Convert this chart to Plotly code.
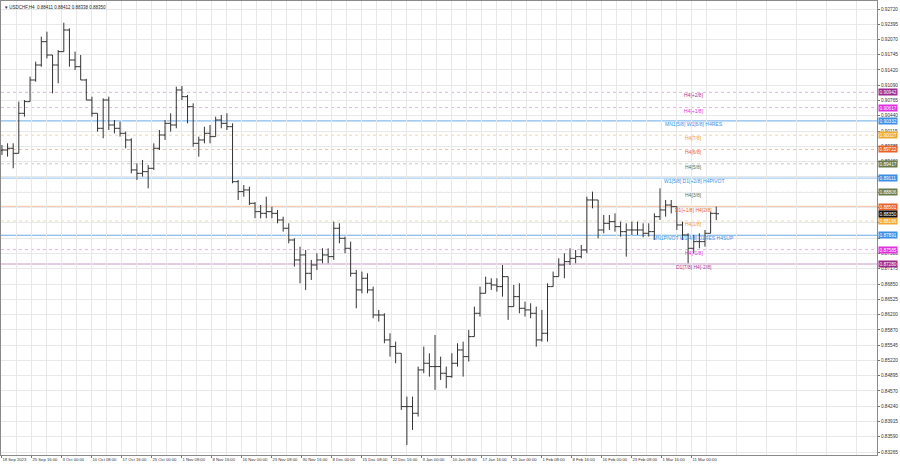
import plotly.graph_objects as go

# ---------------- data (daily aggregation of the H4 chart) -------------
title_text = "USDCHF,H4  0.88411 0.88412 0.88338 0.88350"

opens = [0.89700, 0.89711, 0.89747, 0.89640, 0.90494, 0.90743, 0.91205, 0.91525, 0.92023, 0.91738,
         0.91525, 0.91810, 0.92272, 0.91632, 0.91489, 0.91205, 0.90778, 0.90494, 0.90174, 0.90778,
         0.90245, 0.90174, 0.90067, 0.89925, 0.89285, 0.89213, 0.89249, 0.89320, 0.89747, 0.90031,
         0.90280, 0.90245, 0.90992, 0.90849, 0.90636, 0.89853, 0.89925, 0.90067, 0.89996, 0.90351,
         0.90280, 0.90209, 0.89035, 0.88822, 0.88858, 0.88573, 0.88395, 0.88359, 0.88395, 0.88359,
         0.88217, 0.88040, 0.87790, 0.87364, 0.87471, 0.87079, 0.87257, 0.87364, 0.87471, 0.87435,
         0.88040, 0.87826, 0.87613, 0.87079, 0.86724, 0.86973, 0.86724, 0.86190, 0.86190, 0.85657,
         0.85515, 0.85372, 0.84234, 0.84234, 0.84092, 0.85017, 0.85159, 0.85088, 0.85088, 0.84946,
         0.84874, 0.85159, 0.85443, 0.85301, 0.85728, 0.86226, 0.86653, 0.86866, 0.86830, 0.86795,
         0.87008, 0.86368, 0.86581, 0.86332, 0.86297, 0.86226, 0.85657, 0.85799, 0.86795, 0.87008,
         0.87257, 0.87328, 0.87399, 0.87435, 0.87577, 0.88644, 0.88644, 0.88004, 0.88146, 0.88182,
         0.88075, 0.87968, 0.88004, 0.88004, 0.88004, 0.87933, 0.87968, 0.88288, 0.88431, 0.88537,
         0.88502, 0.88111, 0.87897, 0.87613, 0.87755, 0.87755, 0.87933, 0.88359]

highs = [0.89818, 0.89853, 0.89853, 0.90743, 0.90778, 0.91276, 0.91596, 0.92130, 0.92236, 0.91738,
         0.91845, 0.92428, 0.92307, 0.91810, 0.91738, 0.91230, 0.90849, 0.90494, 0.90814, 0.90849,
         0.90351, 0.90316, 0.90102, 0.89960, 0.89427, 0.89498, 0.89391, 0.89853, 0.90138, 0.90351,
         0.90494, 0.91063, 0.91077, 0.90885, 0.90707, 0.89996, 0.90209, 0.90245, 0.90423, 0.90458,
         0.90494, 0.90280, 0.89070, 0.88964, 0.88929, 0.88600, 0.88537, 0.88715, 0.88502, 0.88431,
         0.88288, 0.88146, 0.87826, 0.87648, 0.87577, 0.87364, 0.87506, 0.87613, 0.87613, 0.88182,
         0.88146, 0.87862, 0.87755, 0.87150, 0.87115, 0.87079, 0.86795, 0.86297, 0.86226, 0.85799,
         0.85621, 0.85372, 0.84447, 0.84447, 0.85088, 0.85515, 0.85372, 0.85763, 0.85301, 0.85088,
         0.85372, 0.85586, 0.85621, 0.85870, 0.86368, 0.86795, 0.87008, 0.86973, 0.86973, 0.87257,
         0.87008, 0.86830, 0.86866, 0.86475, 0.86439, 0.86368, 0.86297, 0.86866, 0.87115, 0.87399,
         0.87506, 0.87613, 0.87577, 0.87684, 0.88715, 0.88822, 0.88644, 0.88324, 0.88324, 0.88359,
         0.88182, 0.88146, 0.88182, 0.88182, 0.88146, 0.88146, 0.88359, 0.88893, 0.88644, 0.88644,
         0.88502, 0.88182, 0.87933, 0.87897, 0.87933, 0.88004, 0.88395, 0.88502]

lows = [0.89605, 0.89569, 0.89320, 0.89640, 0.90423, 0.90743, 0.91169, 0.91489, 0.91667, 0.90920,
        0.91134, 0.91810, 0.91489, 0.91418, 0.91205, 0.90778, 0.90423, 0.90102, 0.89960, 0.90138,
        0.90067, 0.89996, 0.89747, 0.89213, 0.89071, 0.89142, 0.88893, 0.89285, 0.89711, 0.89925,
        0.90102, 0.90174, 0.90778, 0.90280, 0.89782, 0.89569, 0.89853, 0.89853, 0.89996, 0.90174,
        0.90138, 0.89000, 0.88644, 0.88715, 0.88537, 0.88253, 0.88253, 0.88253, 0.88253, 0.88146,
        0.87968, 0.87719, 0.87222, 0.86866, 0.86724, 0.86937, 0.87150, 0.87293, 0.87293, 0.87364,
        0.87719, 0.87506, 0.87008, 0.86332, 0.86653, 0.86653, 0.86119, 0.86048, 0.85586, 0.85301,
        0.85159, 0.84163, 0.83416, 0.83736, 0.84021, 0.84946, 0.84874, 0.84590, 0.84803, 0.84625,
        0.84850, 0.85088, 0.84874, 0.85195, 0.85728, 0.86155, 0.86653, 0.86724, 0.86688, 0.86581,
        0.86084, 0.86368, 0.86226, 0.86155, 0.86119, 0.85515, 0.85621, 0.85621, 0.86795, 0.87008,
        0.86973, 0.87257, 0.87293, 0.87399, 0.87506, 0.88466, 0.87826, 0.87933, 0.88004, 0.87968,
        0.87862, 0.87435, 0.87897, 0.87897, 0.87848, 0.87862, 0.87790, 0.88217, 0.88288, 0.88359,
        0.88004, 0.87790, 0.87293, 0.87506, 0.87613, 0.87648, 0.87933, 0.88217]

closes = [0.89711, 0.89747, 0.89640, 0.90494, 0.90743, 0.91205, 0.91525, 0.92023, 0.91738, 0.91525,
          0.91810, 0.92272, 0.91632, 0.91489, 0.91205, 0.90778, 0.90494, 0.90174, 0.90778, 0.90245,
          0.90174, 0.90067, 0.89925, 0.89285, 0.89213, 0.89249, 0.89320, 0.89747, 0.90031, 0.90280,
          0.90245, 0.90992, 0.90849, 0.90636, 0.89853, 0.89925, 0.90067, 0.89996, 0.90351, 0.90280,
          0.90209, 0.89035, 0.88822, 0.88858, 0.88573, 0.88395, 0.88359, 0.88395, 0.88359, 0.88217,
          0.88040, 0.87790, 0.87364, 0.87471, 0.87079, 0.87257, 0.87364, 0.87471, 0.87435, 0.88040,
          0.87826, 0.87613, 0.87079, 0.86724, 0.86973, 0.86724, 0.86190, 0.86190, 0.85657, 0.85515,
          0.85372, 0.84234, 0.84234, 0.84092, 0.85017, 0.85159, 0.85088, 0.85088, 0.84946, 0.84874,
          0.85159, 0.85443, 0.85301, 0.85728, 0.86226, 0.86653, 0.86866, 0.86830, 0.86795, 0.87008,
          0.86368, 0.86581, 0.86332, 0.86297, 0.86226, 0.85657, 0.85799, 0.86795, 0.87008, 0.87257,
          0.87328, 0.87399, 0.87435, 0.87577, 0.88644, 0.88644, 0.88004, 0.88146, 0.88182, 0.88075,
          0.87968, 0.88004, 0.88004, 0.88004, 0.87933, 0.87968, 0.88288, 0.88431, 0.88537, 0.88502,
          0.88111, 0.87897, 0.87613, 0.87755, 0.87755, 0.87933, 0.88359, 0.88350]

# time-scale labels (one every 32 H4 bars)
time_labels = ["18 Sep 2023", "25 Sep 16:00", "3 Oct 00:00", "10 Oct 08:00", "17 Oct 16:00",
               "25 Oct 00:00", "1 Nov 08:00", "8 Nov 16:00", "16 Nov 00:00", "23 Nov 08:00",
               "30 Nov 16:00", "8 Dec 00:00", "15 Dec 08:00", "22 Dec 16:00", "3 Jan 00:00",
               "10 Jan 08:00", "17 Jan 16:00", "25 Jan 00:00", "1 Feb 08:00", "8 Feb 16:00",
               "16 Feb 00:00", "23 Feb 08:00", "1 Mar 16:00", "11 Mar 00:00"]

price_ticks = [0.92720, 0.92395, 0.92070, 0.91745, 0.91420, 0.91090, 0.90765, 0.90440, 0.90115,
               0.89785, 0.89460, 0.89135, 0.88810, 0.88480, 0.88155, 0.87830, 0.87505, 0.87175,
               0.86850, 0.86525, 0.86200, 0.85870, 0.85545, 0.85220, 0.84895, 0.84570, 0.84240,
               0.83915, 0.83590, 0.83265]
# scale labels that sit fully under a level tag in the reference (not drawn)
hidden_ticks = [0.89135, 0.88810, 0.88480, 0.88155, 0.87830]

# Murrey-style levels
level_prices = [0.90942, 0.90617, 0.90332, 0.90027, 0.89722, 0.89417, 0.89111, 0.88806,
                0.88501, 0.88196, 0.87891, 0.87585, 0.87280]
level_names = ["H4[+2/8]", "H4[+1/8]", "MN1[5/8] W1[6/8] H4RES", "H4[7/8]", "H4[6/8]", "H4[5/8]",
               "W1[5/8] D1[+2/8] H4PIVOT", "H4[3/8]", "D1[+1/8] H4[2/8]", "H4[1/8]",
               "MN1PIVOT W1[4/8] D1RES H4SUP", "H4[-1/8]", "D1[7/8] H4[-2/8]"]
current_price = 0.88350

# ---------------- styles -------------
level_text_colors = ["#a8349a", "#e030e0", "#3a8ee6", "#f0a020", "#e8622a", "#5d6e3c",
                     "#3a8ee6", "#5d6e3c", "#e8622a", "#f0a020", "#3a8ee6", "#e030e0", "#a8349a"]
level_tag_colors = ["#9c2a8c", "#e030e0", "#3a8ee6", "#f0a830", "#e8622a", "#6b7a4b",
                    "#3a8ee6", "#6b7a4b", "#e8622a", "#f0a830", "#3a8ee6", "#e030e0", "#9c2a8c"]
level_line_colors = ["#d9b3d9", "#eab3ea", "#6aaae8", "#f0d2a8", "#eec0a8", "#c8ccbc",
                     "#8fc0ec", "#cfcfc4", "#f3cdb8", "#f2dcb8", "#6aaae8", "#e6b3e6", "#d8bcd8"]
level_line_dash = ["3px,3px", "3px,3px", "solid", "3px,3px", "3px,3px", "3px,3px",
                   "solid", "3px,3px", "solid", "3px,3px", "solid", "3px,3px", "solid"]
level_line_width = [1, 1, 1, 1, 1, 1, 1, 1, 2, 1, 1, 1, 1.5]

FONT = "Liberation Sans, Arial, sans-serif"
BARS_PER_DAY = 6
LABEL_STEP = 32
label_bar = 738.7

x_days = [BARS_PER_DAY * k + 0.5 for k in range(len(closes))]

fig = go.Figure()
fig.add_trace(go.Ohlc(
    x=x_days, open=opens, high=highs, low=lows, close=closes,
    increasing=dict(line=dict(color="#333333", width=1)),
    decreasing=dict(line=dict(color="#333333", width=1)),
    tickwidth=0.5, showlegend=False, hoverinfo="skip"))

shapes = []
annotations = []
for p, name, tc, tg, lc, ld, lw in zip(level_prices, level_names, level_text_colors,
                                       level_tag_colors, level_line_colors, level_line_dash,
                                       level_line_width):
    shapes.append(dict(type="line", xref="paper", x0=0, x1=1, yref="y", y0=p, y1=p,
                       line=dict(color=lc, width=lw, dash=ld), layer="below"))
    annotations.append(dict(x=label_bar, y=p, xref="x", yref="y", text=name, showarrow=False,
                            yshift=-3, font=dict(family=FONT, size=5, color=tc)))
    annotations.append(dict(x=1, y=p, xref="paper", yref="y", text=f"{p:.5f}", showarrow=False,
                            xanchor="left", xshift=1, bgcolor=tg, borderpad=0.5,
                            font=dict(family=FONT, size=4.7, color="white")))

annotations.append(dict(x=1, y=current_price, xref="paper", yref="y", text=f"{current_price:.5f}",
                        showarrow=False, xanchor="left", xshift=1, bgcolor="#111111",
                        borderpad=0.5, font=dict(family=FONT, size=4.7, color="white")))
annotations.append(dict(x=0, y=1, xref="paper", yref="paper", text="▾ " + title_text,
                        showarrow=False, xanchor="left", yanchor="top", xshift=2, yshift=-2,
                        font=dict(family=FONT, size=4.5, color="#222222")))

major_x = [LABEL_STEP * i for i in range(len(time_labels))]
minor_x = [LABEL_STEP * i + LABEL_STEP / 2 for i in range(len(time_labels) + 6)]

fig.update_layout(
    width=900, height=468,
    margin=dict(l=1, r=23, t=1, b=13),
    paper_bgcolor="white", plot_bgcolor="white",
    shapes=shapes, annotations=annotations,
    font=dict(family=FONT, size=5, color="#333333"),
    xaxis=dict(range=[-0.5, 934], tickmode="array", tickvals=major_x, ticktext=time_labels,
               ticklabelposition="outside right", tickangle=0, ticks="outside", ticklen=2,
               tickcolor="#777777", showgrid=True, gridcolor="#e8e8e8", gridwidth=1,
               minor=dict(tickmode="array", tickvals=minor_x, showgrid=True,
                          gridcolor="#e8e8e8", ticks=""),
               showline=True, linecolor="#8a8a8a", mirror=True, zeroline=False,
               rangeslider=dict(visible=False), tickfont=dict(size=4.2, color="#333333"),
               fixedrange=True, automargin=False),
    yaxis=dict(side="right", range=[0.83201, 0.92891], tickmode="array", tickvals=price_ticks,
               ticktext=["" if v in hidden_ticks else f"{v:.5f}" for v in price_ticks],
               ticks="outside", ticklen=2,
               tickcolor="#777777", showgrid=True, gridcolor="#e8e8e8", gridwidth=1,
               showline=True, linecolor="#8a8a8a", mirror=True, zeroline=False,
               tickfont=dict(size=4.7, color="#333333"), fixedrange=True, automargin=False),
)

fig.write_html("out.html", config={"displayModeBar": False},
               post_script="document.body.style.margin='0';"
                           "document.body.style.overflow='hidden';")
